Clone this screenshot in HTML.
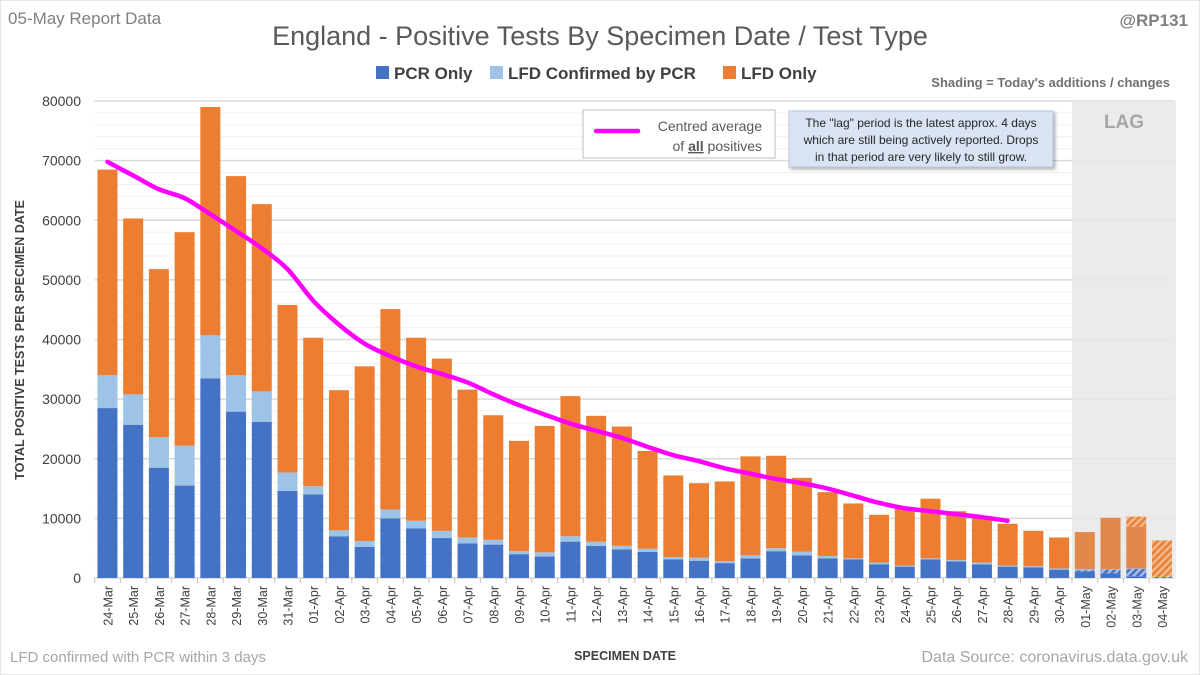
<!DOCTYPE html>
<html><head><meta charset="utf-8"><style>
body{margin:0;background:#fff;font-family:"Liberation Sans",sans-serif}
svg{display:block}
</style></head><body>
<svg id="chart" width="1200" height="675" viewBox="0 0 1200 675" font-family="'Liberation Sans',sans-serif">
<defs>
<pattern id="hatchO" width="5" height="5" patternUnits="userSpaceOnUse" patternTransform="rotate(45)"><rect width="5" height="5" fill="#f3b88a"/><rect width="2.5" height="5" fill="#e8823a"/></pattern>
<pattern id="hatchB" width="5" height="5" patternUnits="userSpaceOnUse" patternTransform="rotate(45)"><rect width="5" height="5" fill="#a9bde6"/><rect width="2.5" height="5" fill="#4472c4"/></pattern>
<filter id="sh"><feDropShadow dx="2" dy="2" stdDeviation="1.5" flood-opacity="0.3"/></filter>
</defs>
<rect x="0" y="0" width="1200" height="675" fill="#fff" stroke="#d0d0d0"/>
<text x="8" y="24" font-size="17" fill="#808080">05-May Report Data</text>
<text x="600" y="45" font-size="27" fill="#595959" text-anchor="middle">England - Positive Tests By Specimen Date / Test Type</text>
<text x="1188" y="26" font-size="17" font-weight="bold" fill="#808080" text-anchor="end">@RP131</text>
<g>
<rect x="376" y="66" width="13" height="13" fill="#4472c4"/>
<text x="394" y="79" font-size="17" font-weight="bold" fill="#404040">PCR Only</text>
<rect x="490" y="66" width="13" height="13" fill="#9dc3e6"/>
<text x="508" y="79" font-size="17" font-weight="bold" fill="#404040">LFD Confirmed by PCR</text>
<rect x="723" y="66" width="13" height="13" fill="#ed7d31"/>
<text x="741" y="79" font-size="17" font-weight="bold" fill="#404040">LFD Only</text>
</g>
<text x="1170" y="87" font-size="13" font-weight="bold" fill="#707070" text-anchor="end">Shading = Today's additions / changes</text>
<g id="grid"></g>
<rect id="lag" fill="#e8e8e8" opacity="0.85"/>
<text x="1124" y="128" font-size="19" font-weight="bold" fill="#a6a6a6" text-anchor="middle">LAG</text>
<g id="bars"></g>
<path id="avg" fill="none" stroke="#ff00ff" stroke-width="4.5" stroke-linecap="round" stroke-linejoin="round"/>
<g id="xlabels"></g>
<g id="ylabels"></g>
<g>
<rect x="583" y="110" width="192" height="48" fill="#fff" stroke="#bfbfbf"/>
<line x1="596" y1="131" x2="638" y2="131" stroke="#ff00ff" stroke-width="4.5" stroke-linecap="round"/>
<text x="762" y="131" font-size="14" fill="#595959" text-anchor="end">Centred average</text>
<text x="762" y="151" font-size="14" fill="#595959" text-anchor="end">of <tspan text-decoration="underline" font-weight="bold">all</tspan> positives</text>
</g>
<g>
<rect x="789" y="111" width="264" height="56" fill="#dae3f3" stroke="#b4c7e7" filter="url(#sh)"/>
<text x="921" y="127" font-size="12" fill="#262626" text-anchor="middle">The "lag" period is the latest approx. 4 days</text>
<text x="921" y="144" font-size="12" fill="#262626" text-anchor="middle">which are still being actively reported.  Drops</text>
<text x="921" y="161" font-size="12" fill="#262626" text-anchor="middle">in that period are very likely to still grow.</text>
</g>
<text transform="translate(24,340) rotate(-90)" font-size="12.5" font-weight="bold" fill="#404040" text-anchor="middle">TOTAL POSITIVE TESTS PER SPECIMEN DATE</text>
<text x="625" y="660" font-size="12.5" font-weight="bold" fill="#404040" text-anchor="middle">SPECIMEN DATE</text>
<text x="10" y="662" font-size="15" fill="#a6a6a6">LFD confirmed with PCR within 3 days</text>
<text x="1188" y="662" font-size="16" fill="#a6a6a6" text-anchor="end">Data Source: coronavirus.data.gov.uk</text>
</svg>
<script>
const categories=["24-Mar","25-Mar","26-Mar","27-Mar","28-Mar","29-Mar","30-Mar","31-Mar","01-Apr","02-Apr","03-Apr","04-Apr","05-Apr","06-Apr","07-Apr","08-Apr","09-Apr","10-Apr","11-Apr","12-Apr","13-Apr","14-Apr","15-Apr","16-Apr","17-Apr","18-Apr","19-Apr","20-Apr","21-Apr","22-Apr","23-Apr","24-Apr","25-Apr","26-Apr","27-Apr","28-Apr","29-Apr","30-Apr","01-May","02-May","03-May","04-May"];
const pcrOnly=[28500,25700,18500,15500,33500,27900,26200,14600,14000,7000,5200,10000,8300,6700,5800,5600,4000,3600,6100,5400,4800,4400,3100,2900,2500,3300,4500,3800,3300,3100,2300,1900,3100,2800,2300,1900,1800,1400,1300,1400,1500,200];
const lfdConfirmed=[5500,5100,5100,6700,7200,6100,5100,3100,1400,1000,1000,1500,1300,1200,1000,800,500,700,900,700,600,500,400,500,300,500,500,600,400,200,300,200,200,200,300,200,200,200,200,100,100,0];
const lfdOnly=[34500,29500,28200,35800,38300,33400,31400,28100,24900,23500,29300,33600,30700,28900,24800,20900,18500,21200,23500,21100,20000,16400,13700,12500,13400,16600,15500,12400,10700,9200,8000,9800,10000,8200,7400,7000,5900,5200,6200,8600,8700,6100];
const lfdAdded=[0,0,0,0,0,0,0,0,0,0,0,0,0,0,0,0,0,0,0,0,0,0,0,0,0,0,0,0,0,0,0,0,0,0,0,0,0,0,0,0,1700,6100];
const pcrAdded=[0,0,0,0,0,0,0,0,0,0,0,0,0,0,0,0,0,0,0,0,0,0,0,0,0,0,0,0,0,0,0,0,0,0,0,0,0,0,200,600,1200,200];
const avgValues=[69800,67500,65200,63700,61000,58200,55300,51800,46500,42500,39300,37200,35500,34200,32800,30800,29000,27400,25900,24700,23500,22000,20600,19600,18400,17500,16600,15900,15000,13800,12600,11700,11200,10700,10200,9600];
const yTicks=[0,10000,20000,30000,40000,50000,60000,70000,80000];
const lagStartIndex=38;

const NS="http://www.w3.org/2000/svg";
const X0=94.6,BAND=25.72,BW=20,Y0=578,YTOP=101,YMAX=80000,XR=X0+BAND*categories.length;
const y=v=>Y0-(v/YMAX)*(Y0-YTOP);
const xc=i=>X0+BAND*(i+0.5);
function mk(tag,attrs,parent){const e=document.createElementNS(NS,tag);for(const k in attrs)e.setAttribute(k,attrs[k]);parent.appendChild(e);return e;}
const grid=document.getElementById('grid');
for(let v=0;v<=YMAX;v+=2000){
  const l=mk('line',{x1:X0,x2:XR,y1:y(v),y2:y(v),stroke:v%10000===0?'#d9d9d9':'#f0f0f0','stroke-width':v%10000===0?1.5:1},grid);
  
  
}
const lag=document.getElementById('lag');
lag.setAttribute('x',X0+BAND*lagStartIndex);lag.setAttribute('y',YTOP);
lag.setAttribute('width',XR-(X0+BAND*lagStartIndex)+1);lag.setAttribute('height',Y0-YTOP);
const bars=document.getElementById('bars');
categories.forEach((c,i)=>{
  const x=xc(i)-BW/2;let base=0;
  const lagged=i>=lagStartIndex;
  const segs=[
    [pcrOnly[i]-pcrAdded[i],'#4472c4','bar-pcr-only'],
    [pcrAdded[i],'url(#hatchB)','bar-pcr-added'],
    [lfdConfirmed[i],'#9dc3e6','bar-lfd-confirmed'],
    [lfdOnly[i]-lfdAdded[i],lagged?'#e0894a':'#ed7d31','bar-lfd-only'],
    [lfdAdded[i],'url(#hatchO)','bar-lfd-added']];
  segs.forEach(s=>{
    if(s[0]<=0)return;
    const r=mk('rect',{x:x,y:y(base+s[0]),width:BW,height:y(base)-y(base+s[0]),fill:s[1]},bars);
    
    
    base+=s[0];
  });
  const t=mk('text',{transform:`translate(${xc(i)+5},${Y0+8}) rotate(-90)`,'font-size':12.5,fill:'#404040','text-anchor':'end'},document.getElementById('xlabels'));
  t.textContent=c;
  
  
  const tk=mk('line',{x1:X0+BAND*i,x2:X0+BAND*i,y1:Y0,y2:Y0+5,stroke:'#bfbfbf'},grid);
  
  
});
yTicks.forEach(v=>{
  const t=mk('text',{x:81,y:y(v)+5,'font-size':14,fill:'#404040','text-anchor':'end'},document.getElementById('ylabels'));
  t.textContent=String(v);
  
  
});
const pts=avgValues.map((v,i)=>[xc(i),y(v)]);
let d='M'+pts[0][0]+','+pts[0][1];
for(let i=0;i<pts.length-1;i++){
  const p0=pts[Math.max(0,i-1)],p1=pts[i],p2=pts[i+1],p3=pts[Math.min(pts.length-1,i+2)];
  d+=` C${p1[0]+(p2[0]-p0[0])/6},${p1[1]+(p2[1]-p0[1])/6} ${p2[0]-(p3[0]-p1[0])/6},${p2[1]-(p3[1]-p1[1])/6} ${p2[0]},${p2[1]}`;
}
document.getElementById('avg').setAttribute('d',d);
</script>
</body></html>
